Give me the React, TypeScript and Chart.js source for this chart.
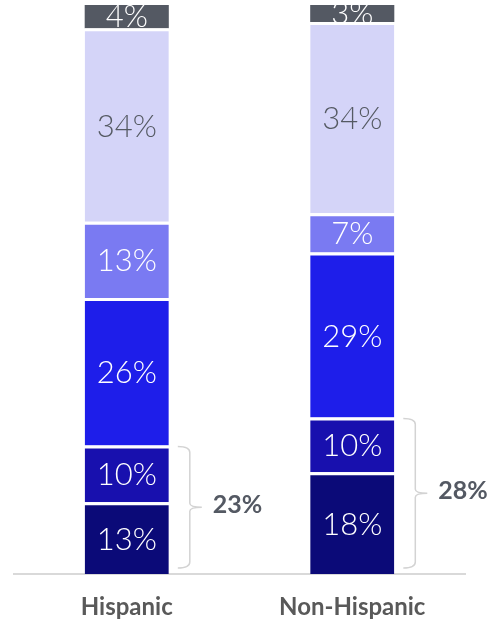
import React, { useEffect, useRef } from "react";
import { Chart, registerables } from "chart.js";

Chart.register(...registerables);

const categories = ["Hispanic", "Non-Hispanic"];
// stacked from bottom to top
const seg1 = [12.6, 17.9];
const seg2 = [10.0, 9.6];
const seg3 = [25.9, 29.0];
const seg4 = [13.4, 6.9];
const seg5 = [34.0, 33.6];
const seg6 = [4.1, 3.0];
const groupTotals = ["23%", "28%"];

const colors = ["#0B0A78", "#1810AE", "#1E1EEA", "#7A7AF2", "#D4D4F8", "#545963"];
const labelColors = ["#FFFFFF", "#FFFFFF", "#FFFFFF", "#FFFFFF", "#555A63", "#FFFFFF"];

export default function App() {
  const ref = useRef<HTMLCanvasElement>(null);
  useEffect(() => {
    document.body.style.margin = "0";
    const series = [seg1, seg2, seg3, seg4, seg5, seg6];
    const labelPlugin = {
      id: "labels",
      afterDatasetsDraw(chart: any) {
        const ctx = chart.ctx;
        ctx.save();
        ctx.textAlign = "center";
        ctx.textBaseline = "middle";
        chart.data.datasets.forEach((ds: any, di: number) => {
          const meta = chart.getDatasetMeta(di);
          meta.data.forEach((el: any, i: number) => {
            const v = ds.data[i];
            const top = Math.min(el.y, el.base);
            const bot = Math.max(el.y, el.base);
            const cy = (top + bot) / 2 + (di === series.length - 1 ? 0 : 1.5);
            ctx.font = "300 31px Lato, 'Open Sans', sans-serif";
            ctx.fillStyle = labelColors[di];
            ctx.fillText(Math.round(v) + "%", el.x, cy);
          });
        });
        // brackets
        const m0 = chart.getDatasetMeta(0);
        const m1 = chart.getDatasetMeta(1);
        m0.data.forEach((el: any, i: number) => {
          const e1 = m1.data[i];
          const right = el.x + el.width / 2;
          const bx = right + 21;
          const top = e1.y + 1;
          const bot = el.base - 6;
          const mid = (top + bot) / 2;
          ctx.strokeStyle = "#D3D3D3";
          ctx.lineWidth = 1.5;
          ctx.beginPath();
          ctx.moveTo(bx - 12, top);
          ctx.quadraticCurveTo(bx, top, bx, top + 6);
          ctx.lineTo(bx, mid - 4);
          ctx.quadraticCurveTo(bx, mid, bx + 12, mid);
          ctx.moveTo(bx + 12, mid);
          ctx.quadraticCurveTo(bx, mid, bx, mid + 4);
          ctx.lineTo(bx, bot - 6);
          ctx.quadraticCurveTo(bx, bot, bx - 12, bot);
          ctx.stroke();
          ctx.fillStyle = "#545963";
          ctx.font = "bold 25px Lato, 'Open Sans', sans-serif";
          ctx.textAlign = "left";
          ctx.fillText(groupTotals[i], bx + 23, mid - 2);
          ctx.textAlign = "center";
        });
        ctx.restore();
      },
    };
    const chart = new Chart(ref.current!, {
      type: "bar",
      data: {
        labels: categories,
        datasets: series.map((d, i) => ({
          label: "s" + i,
          data: d,
          backgroundColor: colors[i],
          borderColor: "#FFFFFF",
          borderWidth: i === series.length - 1 ? 0 : { top: 3, bottom: 0, left: 0, right: 0 },
          borderSkipped: false,
          barPercentage: 0.373,
          categoryPercentage: 1,
        })),
      },
      options: {
        responsive: false,
        animation: false,
        maintainAspectRatio: false,
        layout: { padding: { left: 14, right: 30, top: 5, bottom: 0 } },
        plugins: { legend: { display: false }, tooltip: { enabled: false } },
        scales: {
          x: {
            stacked: true,
            grid: { display: false, drawTicks: false },
            border: { display: true, color: "#D9D9D9", width: 2 },
            ticks: {
              color: "#595959",
              padding: 19,
              maxRotation: 0,
              font: { family: "Lato, 'Open Sans', sans-serif", size: 24, weight: "bold" },
            },
            afterFit: (scale: any) => {
              scale.height = 46;
            },
          },
          y: {
            stacked: true,
            display: false,
            min: 0,
            max: 100,
          },
        },
      },
      plugins: [labelPlugin],
    });
    return () => chart.destroy();
  }, []);
  return (
    <div style={{ width: 495, height: 620 }}>
      <canvas ref={ref} width={495} height={620} style={{ display: "block" }} />
    </div>
  );
}
